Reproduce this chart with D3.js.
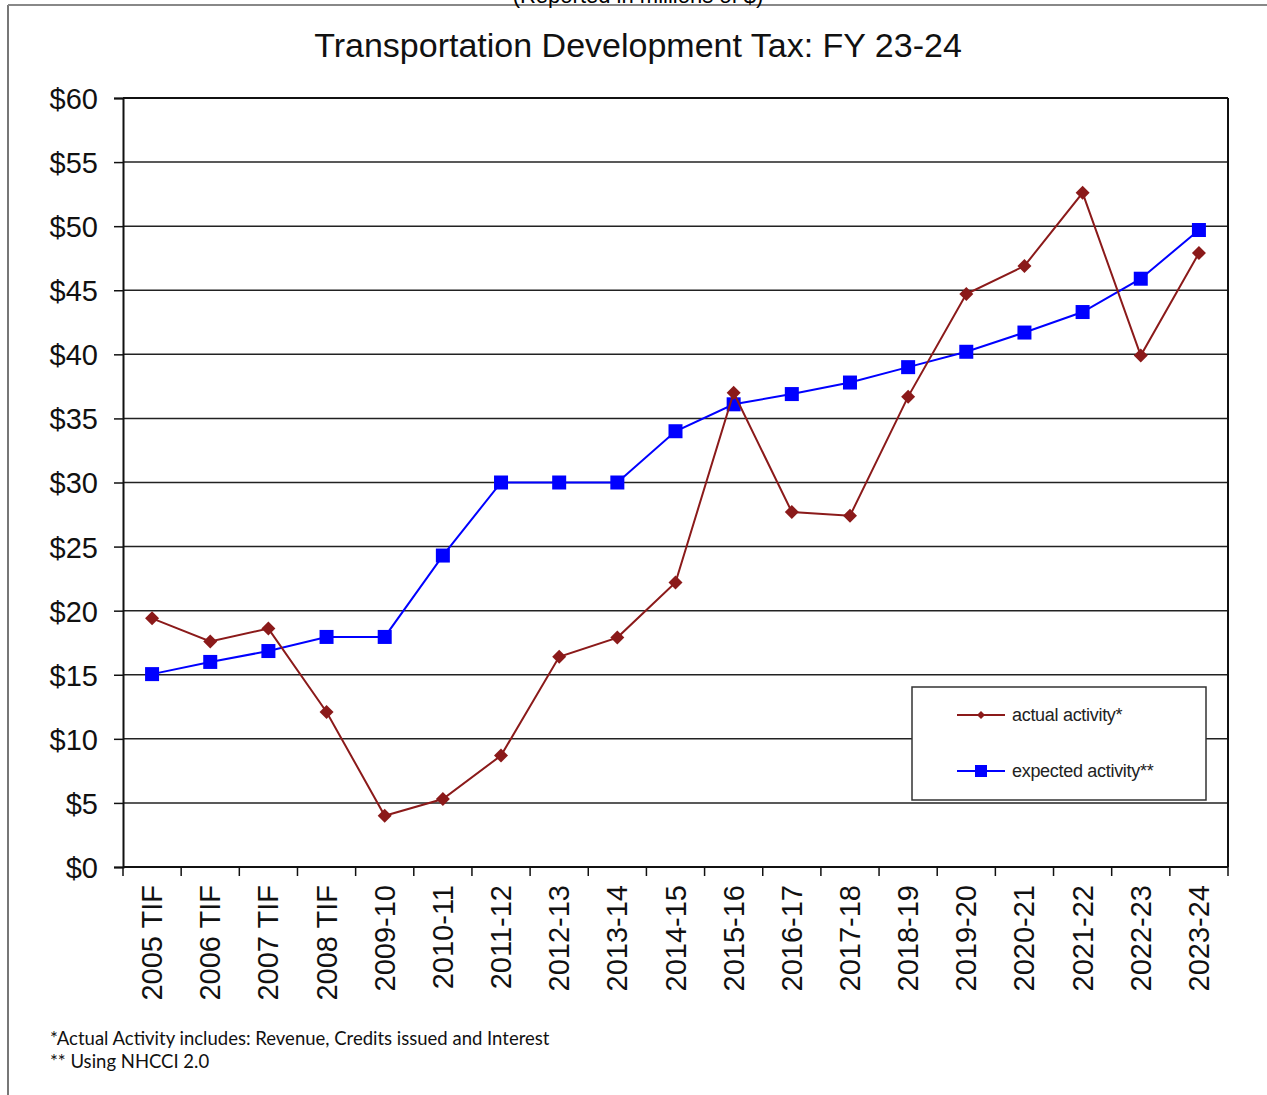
<!DOCTYPE html>
<html>
<head>
<meta charset="utf-8">
<script src="https://cdn.jsdelivr.net/npm/d3@7"></script>
<style>
  body { margin: 0; background: #fff; }
  svg { display: block; }
</style>
</head>
<body>
<svg id="chart" width="1267" height="1095"></svg>
<script>
let years = ["2005 TIF", "2006 TIF", "2007 TIF", "2008 TIF", "2009-10", "2010-11", "2011-12",
  "2012-13", "2013-14", "2014-15", "2015-16", "2016-17", "2017-18", "2018-19", "2019-20",
  "2020-21", "2021-22", "2022-23", "2023-24"];

// millions of $
let actual = [19.4, 17.6, 18.6, 12.1, 4.0, 5.3, 8.7, 16.4, 17.9, 22.2, 37.0, 27.7, 27.4, 36.7, 44.7,
  46.9, 52.6, 39.9, 47.9];
let expected = [15.05, 16.0, 16.85, 17.95, 17.95, 24.3, 30.0, 30.0, 30.0, 34.0, 36.1, 36.9, 37.8, 39.0,
  40.2, 41.7, 43.3, 45.9, 49.7];

let yTicks = [0, 5, 10, 15, 20, 25, 30, 35, 40, 45, 50, 55, 60];

let legendItems = ["actual activity*", "expected activity**"];
let notes = ["*Actual Activity includes: Revenue, Credits issued and Interest", "** Using NHCCI 2.0"];

let actualColor = "#8b1a1a", expectedColor = "#0000ff";
let font_family = "'Liberation Sans', Arial, sans-serif";

let margin = {left: 123, right: 1267 - 1228, top: 98, bottom: 1095 - 867};
let svg = d3.select("#chart");

let x = d3.scaleBand()
  .domain(years)
  .range([margin.left, 1228]);
let y = d3.scaleLinear()
  .domain([0, 60])
  .range([867, margin.top]);

// outer frame (page border)
svg.append("line")
  .attr("x1", 8).attr("x2", 8).attr("y1", 5).attr("y2", 1095)
  .attr("stroke", "#777").attr("stroke-width", 2);
svg.append("line")
  .attr("x1", 8).attr("x2", 1267).attr("y1", 5).attr("y2", 5)
  .attr("stroke", "#888").attr("stroke-width", 2);

// subtitle, cut off by the page top as in the source
svg.append("text")
  .attr("x", 638).attr("y", 3)
  .attr("text-anchor", "middle")
  .style("font", "22px " + font_family)
  .text("(Reported in millions of $)");

svg.append("text")
  .attr("x", 638).attr("y", 57)
  .attr("text-anchor", "middle")
  .style("font", "34px " + font_family)
  .attr("fill", "#111")
  .text("Transportation Development Tax: FY 23-24");

// gridlines
svg.append("g")
  .selectAll("line")
  .data(yTicks)
  .enter()
  .append("line")
  .attr("x1", margin.left).attr("x2", 1228)
  .attr("y1", d => y(d)).attr("y2", d => y(d))
  .attr("stroke", "#222").attr("stroke-width", 1.5);

// y axis
let yAxis = svg.append("g")
  .attr("transform", `translate(${margin.left},0)`)
  .call(d3.axisLeft(y).tickValues(yTicks).tickSize(9).tickPadding(16).tickFormat(d => "$" + d));
yAxis.select(".domain").attr("stroke", "#111").attr("stroke-width", 2);
yAxis.selectAll(".tick line").attr("stroke", "#111").attr("stroke-width", 1.5);
yAxis.selectAll("text")
  .attr("dy", "0.36em")
  .style("font", "29px " + font_family)
  .attr("fill", "#111");

// x axis: ticks at category boundaries
let xAxisG = svg.append("g").attr("transform", "translate(0,867)");
xAxisG.append("line")
  .attr("x1", margin.left).attr("x2", 1228)
  .attr("stroke", "#111").attr("stroke-width", 2);
xAxisG.selectAll(".xtick")
  .data(years.concat(["end"]))
  .enter()
  .append("line")
  .attr("class", "xtick")
  .attr("x1", (d, i) => i < years.length ? x(d) : x.range()[1])
  .attr("x2", (d, i) => i < years.length ? x(d) : x.range()[1])
  .attr("y1", 0).attr("y2", 9)
  .attr("stroke", "#111").attr("stroke-width", 1.5);
xAxisG.selectAll(".xlabel")
  .data(years)
  .enter()
  .append("text")
  .attr("class", "xlabel")
  .attr("transform", d => `translate(${x(d) + x.bandwidth() / 2 + 10},18) rotate(-90)`)
  .attr("text-anchor", "end")
  .style("font", "29px " + font_family)
  .attr("fill", "#111")
  .text(d => d);

// right and top plot border
svg.append("line")
  .attr("x1", 1228).attr("x2", 1228).attr("y1", margin.top).attr("y2", 867)
  .attr("stroke", "#111").attr("stroke-width", 2);
svg.append("line")
  .attr("x1", margin.left).attr("x2", 1228).attr("y1", margin.top).attr("y2", margin.top)
  .attr("stroke", "#111").attr("stroke-width", 2);

let cx = d => x(d) + x.bandwidth() / 2;
let line = d3.line().x(d => cx(d[0])).y(d => y(d[1]));

let expPts = years.map((d, i) => [d, expected[i]]);
let actPts = years.map((d, i) => [d, actual[i]]);

svg.append("path")
  .datum(expPts)
  .attr("d", line)
  .attr("fill", "none")
  .attr("stroke", expectedColor)
  .attr("stroke-width", 2);
svg.append("g")
  .selectAll("rect")
  .data(expPts)
  .enter()
  .append("rect")
  .attr("x", d => cx(d[0]) - 7)
  .attr("y", d => y(d[1]) - 7)
  .attr("width", 14).attr("height", 14)
  .attr("fill", expectedColor);

svg.append("path")
  .datum(actPts)
  .attr("d", line)
  .attr("fill", "none")
  .attr("stroke", actualColor)
  .attr("stroke-width", 2);
svg.append("g")
  .selectAll("path")
  .data(actPts)
  .enter()
  .append("path")
  .attr("transform", d => `translate(${cx(d[0])},${y(d[1])})`)
  .attr("d", "M0,-7L7,0L0,7L-7,0Z")
  .attr("fill", actualColor);

// legend
let legend = svg.append("g").attr("transform", "translate(912,687)");
legend.append("rect")
  .attr("width", 294).attr("height", 113)
  .attr("fill", "#fff")
  .attr("stroke", "#333").attr("stroke-width", 1.5);
let lg = legend.selectAll(".legend_item")
  .data(legendItems)
  .enter()
  .append("g")
  .attr("class", "legend_item")
  .attr("transform", (d, i) => `translate(0, ${28 + i * 56})`);
lg.append("line")
  .attr("x1", 45).attr("x2", 93)
  .attr("stroke", (d, i) => i == 0 ? actualColor : expectedColor)
  .attr("stroke-width", 2);
lg.append("path")
  .attr("transform", "translate(69,0)")
  .attr("d", (d, i) => i == 0 ? "M0,-4L4,0L0,4L-4,0Z" : "M-6,-6H6V6H-6Z")
  .attr("fill", (d, i) => i == 0 ? actualColor : expectedColor);
lg.append("text")
  .attr("x", 100).attr("y", 6)
  .style("font", "18px " + font_family)
  .style("letter-spacing", "-0.3px")
  .attr("fill", "#222")
  .text(d => d);

// footnotes
svg.append("g")
  .selectAll("text")
  .data(notes)
  .enter()
  .append("text")
  .attr("x", 50)
  .attr("y", (d, i) => 1045 + i * 23)
  .style("font", "18.5px Lato, 'Open Sans', sans-serif")
  .attr("fill", "#111")
  .text(d => d);
</script>
</body>
</html>
